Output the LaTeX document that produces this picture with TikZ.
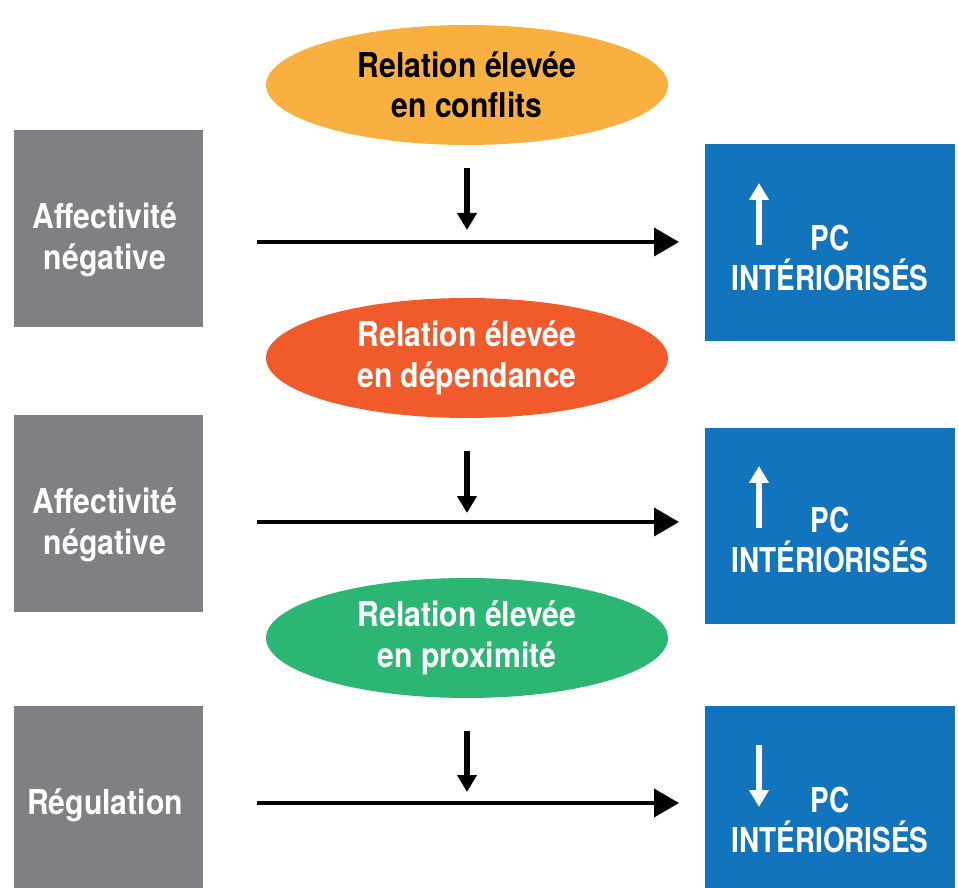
\documentclass[tikz,border=0pt]{standalone}
\usepackage{fontspec}
\setmainfont{TeX Gyre Heros}[FakeStretch=0.88]
\newfontfamily\pcfont{TeX Gyre Heros}[FakeStretch=0.815]
\usetikzlibrary{shapes.geometric,arrows.meta}

\definecolor{grisbox}{HTML}{808084}
\definecolor{bleubox}{HTML}{1174BC}
\definecolor{jaune}{HTML}{F9B041}
\definecolor{rouge}{HTML}{F15A2B}
\definecolor{vert}{HTML}{2BB673}

\begin{document}
\begin{tikzpicture}[x=0.02cm,y=-0.02cm,
  every node/.style={font=\bfseries\fontsize{19.5}{23}\selectfont, align=center, outer sep=0pt},
  grisbox/.style={fill=grisbox, minimum width=3.78cm, minimum height=3.94cm, inner sep=0pt},
  bleubox/.style={fill=bleubox, minimum width=5cm, minimum height=3.94cm, inner sep=0pt},
  pctext/.style={text=white, font=\pcfont\bfseries\fontsize{19.5}{23}\selectfont},
  relation/.style={ellipse, minimum width=8.04cm, minimum height=2.4cm, inner sep=0pt},
  fleche/.style={line width=2.2pt, -{Triangle[length=0.5cm,width=0.56cm]}},
  flechebas/.style={line width=3pt, -{Triangle[length=0.34cm,width=0.38cm]}},
  flecheblanche/.style={white, line width=3.2pt, -{Triangle[length=0.34cm,width=0.38cm]}}]

\useasboundingbox (0,0) rectangle (958,888);

% boites grises
\node[grisbox] (a1) at (108.5,228.5) {};
\node[grisbox] (a2) at (108.5,513.5) {};
\begin{scope}
\clip (0,0) rectangle (958,888);
\node[grisbox] (a3) at (108.5,804.5) {};
\end{scope}
\node[text=white] (g1) at (105,240) {Affectivité\\négative};
\node[text=white] (g2) at (105,525) {Affectivité\\négative};
\node[text=white] (g3) at (105,805) {Régulation};

% relations
\node[relation, fill=jaune] (r1) at (467,85) {Relation élevée\\en conflits};
\node[relation, fill=rouge, text=white] (r2) at (467,358) {Relation élevée\\en dépendance};
\node[relation, fill=vert, text=white] (r3) at (467,638) {Relation élevée\\en proximité};

% boites bleues
\node[bleubox] (pc1) at (830,242.5) {};
\node[bleubox] (pc2) at (830,526) {};
\begin{scope}
\clip (0,0) rectangle (958,888);
\node[bleubox] (pc3) at (830,804.5) {};
\end{scope}
\node[pctext] (t1) at (830,258) {PC\\INTÉRIORISÉS};
\node[pctext] (t2) at (830,540) {PC\\INTÉRIORISÉS};
\node[pctext] (t3) at (830,820) {PC\\INTÉRIORISÉS};

% fleches
\coordinate (h1s) at (257,242);  \coordinate (h1e) at (679,242);
\coordinate (h2s) at (257,522);  \coordinate (h2e) at (679,522);
\coordinate (h3s) at (257,803);  \coordinate (h3e) at (679,803);
\coordinate (v1s) at (467,168);  \coordinate (v1e) at (467,230);
\coordinate (v2s) at (467,451);  \coordinate (v2e) at (467,513);
\coordinate (v3s) at (467,731);  \coordinate (v3e) at (467,792);
\draw[fleche] (h1s) -- (h1e);
\draw[fleche] (h2s) -- (h2e);
\draw[fleche] (h3s) -- (h3e);
\draw[flechebas] (v1s) -- (v1e);
\draw[flechebas] (v2s) -- (v2e);
\draw[flechebas] (v3s) -- (v3e);

\coordinate (u1s) at (759,245);  \coordinate (u1e) at (759,183);
\coordinate (u2s) at (759,528);  \coordinate (u2e) at (759,466);
\coordinate (u3s) at (759,745);  \coordinate (u3e) at (759,807);
\draw[flecheblanche] (u1s) -- (u1e);
\draw[flecheblanche] (u2s) -- (u2e);
\draw[flecheblanche] (u3s) -- (u3e);
\end{tikzpicture}
\end{document}
